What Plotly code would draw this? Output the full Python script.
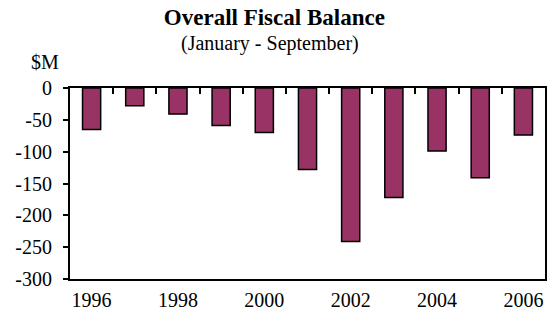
import plotly.graph_objects as go

years = [1996, 1997, 1998, 1999, 2000, 2001, 2002, 2003, 2004, 2005, 2006]
balance = [-65, -28, -41, -59, -70, -128, -241, -172, -99, -141, -74]
x_tick_labels = ["1996", "1998", "2000", "2002", "2004", "2006"]
x_tick_vals = [1996, 1998, 2000, 2002, 2004, 2006]
y_tick_vals = [0, -50, -100, -150, -200, -250, -300]
y_tick_labels = ["0", "-50", "-100", "-150", "-200", "-250", "-300"]
boundaries = [y + 0.5 for y in years[:-1]]

FONT = "Liberation Serif, Times New Roman, serif"

fig = go.Figure()
fig.add_trace(go.Bar(
    x=years, y=balance, width=0.42,
    marker=dict(color="#993366", line=dict(color="black", width=1.5)),
    showlegend=False,
))
fig.add_trace(go.Scatter(
    x=years, y=balance, xaxis="x2", mode="none", hoverinfo="skip", showlegend=False,
))

fig.update_layout(
    width=552, height=324,
    margin=dict(l=70, r=5, t=88, b=45),
    plot_bgcolor="white", paper_bgcolor="white",
    font=dict(family=FONT, size=20, color="black"),
    title=dict(text="<b>Overall Fiscal Balance</b>", x=0.497, xref="container", xanchor="center",
               y=1 - 17 / 324, yref="container", yanchor="middle",
               font=dict(family=FONT, size=23, color="black")),
    xaxis=dict(range=[1995.5, 2006.5], tickvals=x_tick_vals, ticktext=x_tick_labels,
               ticks="", showline=True, linecolor="black", linewidth=2,
               showgrid=False, zeroline=False, tickfont=dict(size=20),
               ticklabelstandoff=2),
    xaxis2=dict(range=[1995.5, 2006.5], overlaying="x", side="top", tickvals=boundaries,
                ticks="inside", ticklen=6, tickwidth=2, tickcolor="black",
                showticklabels=False, showline=True, linecolor="black", linewidth=2,
                showgrid=False, zeroline=False),
    yaxis=dict(range=[-300, 0], tickvals=y_tick_vals, ticktext=y_tick_labels,
               ticks="outside", ticklen=5,
               tickwidth=2, tickcolor="black", showline=True, mirror=True,
               linecolor="black", linewidth=2, showgrid=False, zeroline=False,
               tickfont=dict(size=20), ticklabelstandoff=7),
    annotations=[
        dict(text="(January - September)", xref="paper", yref="paper",
             x=(271 - 70) / 477, y=1 + (88 - 43) / 191, xanchor="center", yanchor="middle",
             showarrow=False, font=dict(size=20)),
        dict(text="$M", xref="paper", yref="paper",
             x=(45 - 70) / 477, y=1 + (88 - 62) / 191, xanchor="center", yanchor="middle",
             showarrow=False, font=dict(size=20)),
    ],
    bargap=0.58,
)

fig.write_html("out.html", config={"displayModeBar": False},
               post_script="document.body.style.margin='0';document.body.style.overflow='hidden';")
